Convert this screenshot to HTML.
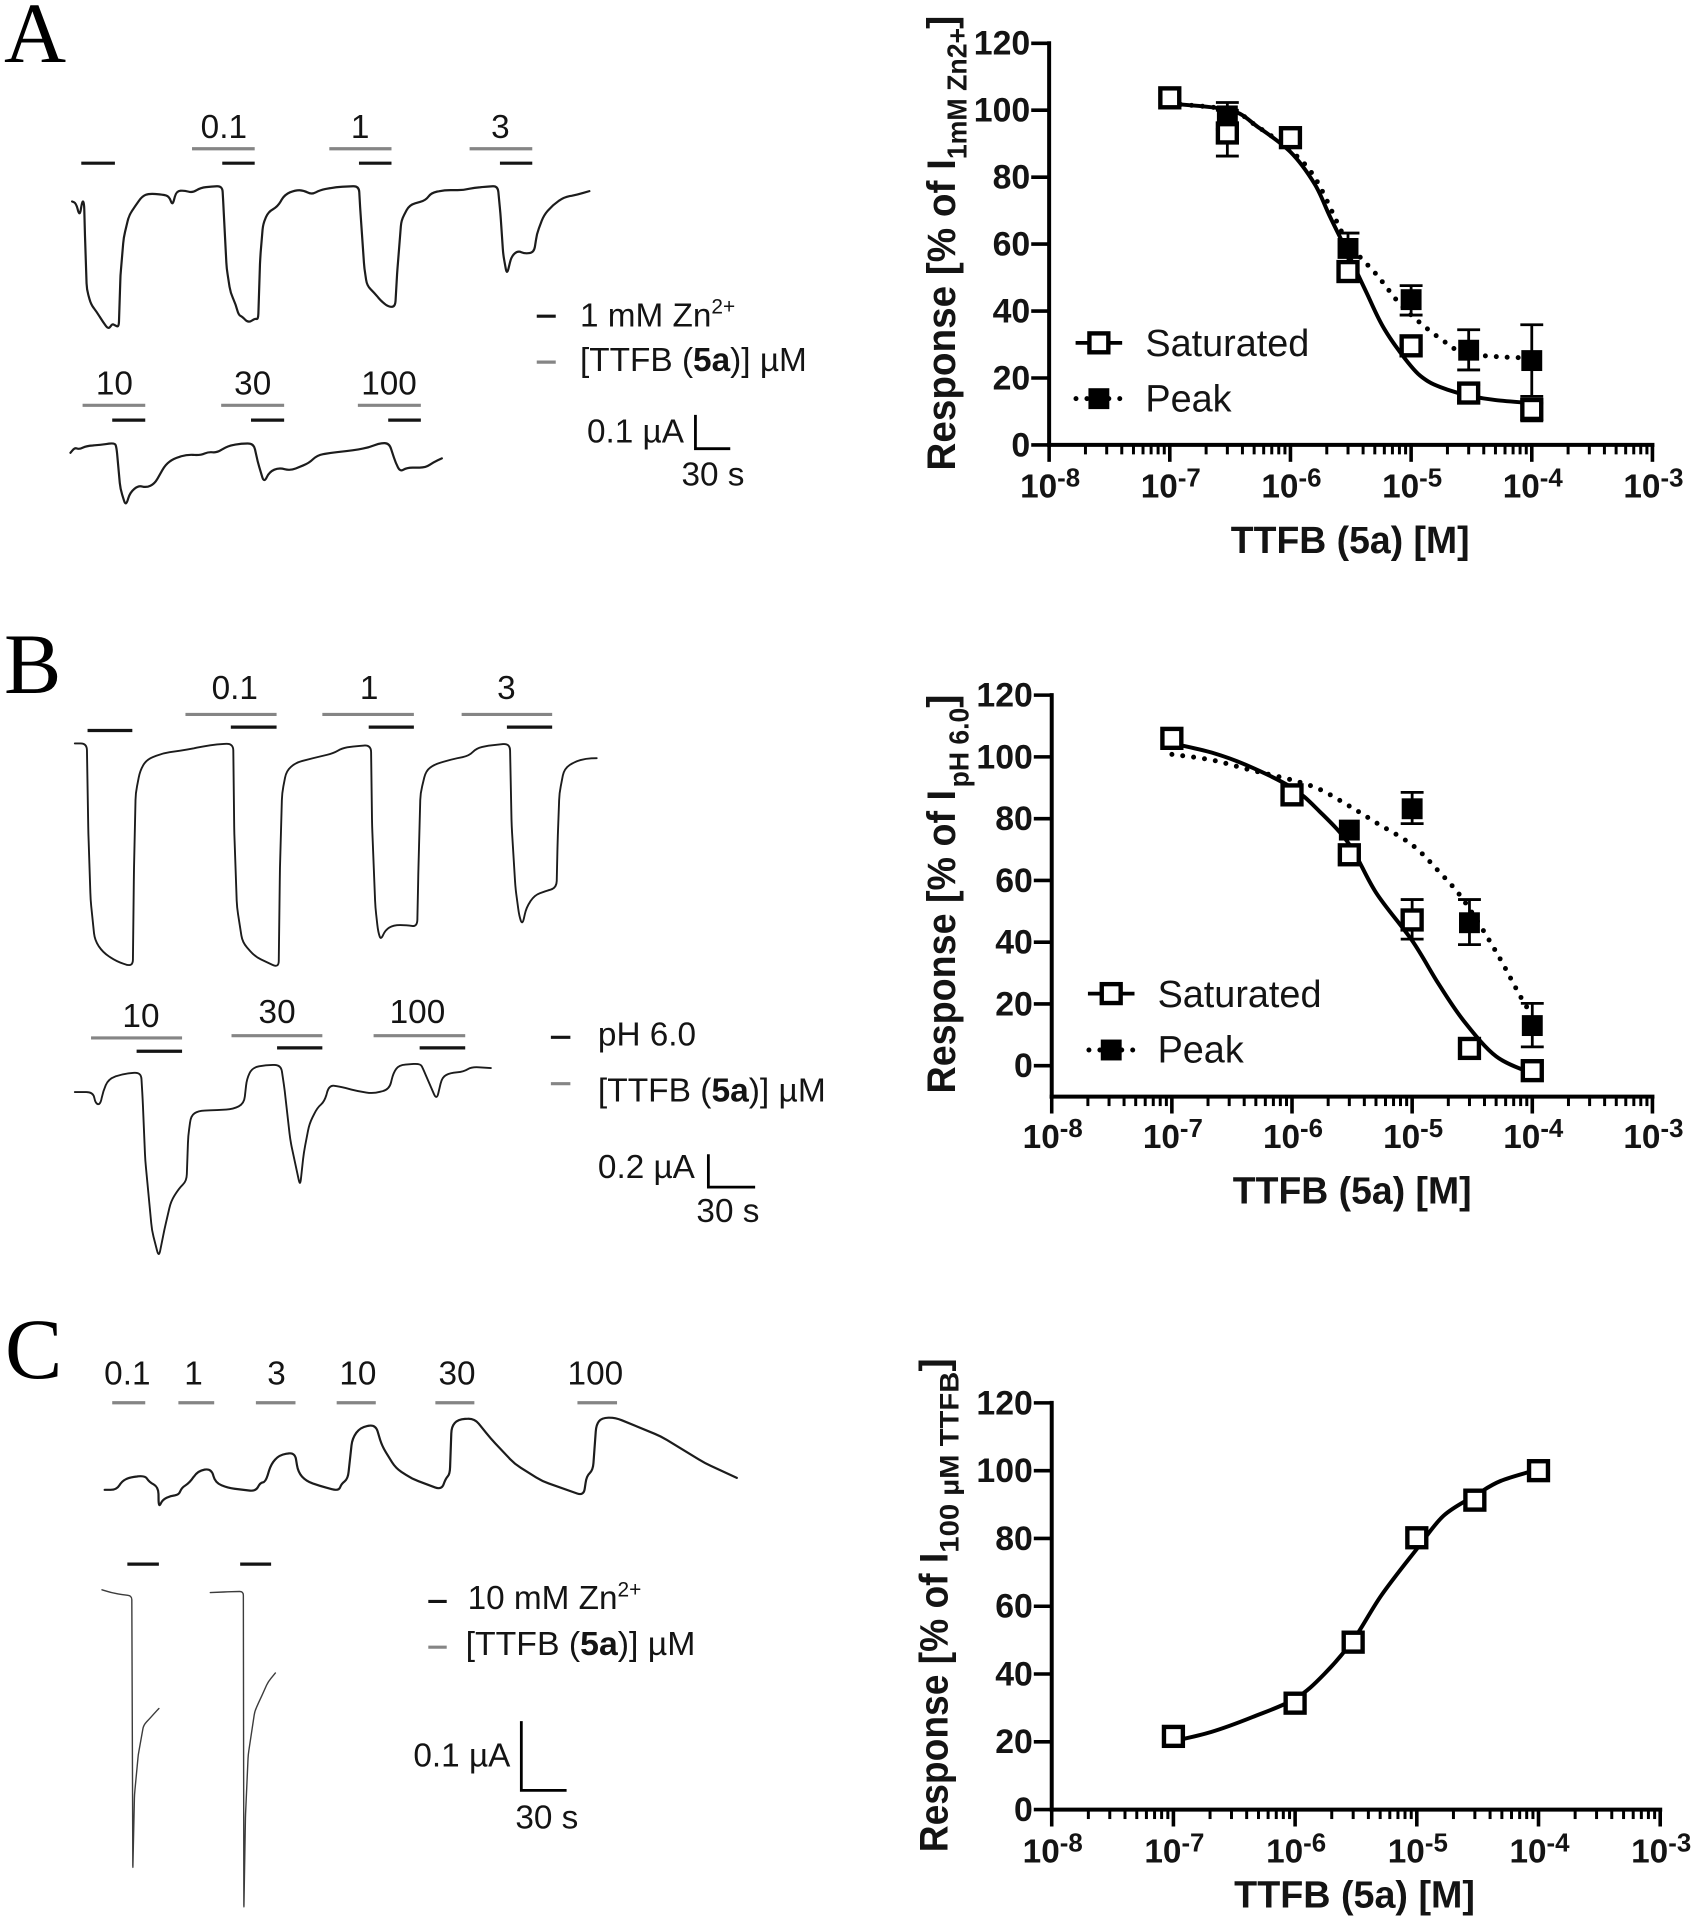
<!DOCTYPE html>
<html lang="en">
<head>
<meta charset="utf-8">
<title>TTFB concentration-response figure</title>
<style>
html,body{margin:0;padding:0;background:#fff;}
svg{display:block;}
text{font-family:"Liberation Sans",sans-serif;fill:#141414;}
.panel{font-family:"Liberation Serif",serif;font-size:86px;fill:#000;}
.lbl{font-size:33.5px;}
.leg{font-size:38px;}
.bold{font-weight:700;}
.zn{stroke:#141414;stroke-width:3.2;}
.tt{stroke:#858585;stroke-width:3.2;}
.sb{stroke:#000;stroke-width:2.8;fill:none;}
</style>
</head>
<body>
<svg id="fig" xmlns="http://www.w3.org/2000/svg" width="1691" height="1920" viewBox="0 0 1691 1920">
<rect x="0" y="0" width="1691" height="1920" fill="#fff"/>

<text class="panel" x="4" y="62">A</text>
<text class="panel" x="4" y="693">B</text>
<text class="panel" x="5" y="1378">C</text>

<!-- Panel A recordings -->
<g id="leftA" transform="scale(.9949)">
<g>
<line class="zn" x1="81.7" x2="115.5" y1="164" y2="164"/>
<line class="zn" x1="223.4" x2="256" y1="164" y2="164"/>
<line class="zn" x1="360.8" x2="393.5" y1="164" y2="164"/>
<line class="zn" x1="502.5" x2="535" y1="164" y2="164"/>
<line class="tt" x1="193" x2="256" y1="149.5" y2="149.5"/>
<line class="tt" x1="331" x2="393.5" y1="149.5" y2="149.5"/>
<line class="tt" x1="472" x2="535" y1="149.5" y2="149.5"/>
<line class="tt" x1="83" x2="146" y1="407.4" y2="407.4"/>
<line class="tt" x1="222.3" x2="285.6" y1="407.4" y2="407.4"/>
<line class="tt" x1="359.7" x2="423" y1="407.4" y2="407.4"/>
<line class="zn" x1="112.8" x2="146" y1="422.3" y2="422.3"/>
<line class="zn" x1="252.3" x2="285.6" y1="422.3" y2="422.3"/>
<line class="zn" x1="390.2" x2="423" y1="422.3" y2="422.3"/>
</g>
<text class="lbl" x="225" y="138.5" text-anchor="middle">0.1</text>
<text class="lbl" x="362" y="138.5" text-anchor="middle">1</text>
<text class="lbl" x="503" y="138.5" text-anchor="middle">3</text>
<text class="lbl" x="115" y="396.5" text-anchor="middle">10</text>
<text class="lbl" x="254" y="396.5" text-anchor="middle">30</text>
<text class="lbl" x="391" y="396.5" text-anchor="middle">100</text>
<g>
<line class="zn" x1="539.5" x2="558.6" y1="317.8" y2="317.8"/>
<line class="tt" x1="539.5" x2="558.6" y1="364" y2="364"/>
<text class="lbl" x="583" y="328">1 mM Zn<tspan font-size="21" dy="-13">2+</tspan></text>
<text class="lbl" x="583" y="373" textLength="228" lengthAdjust="spacingAndGlyphs">[TTFB (<tspan class="bold">5a</tspan>)] µM</text>
</g>
<g>
<path class="sb" d="M699 417V451H734"/>
<text class="lbl" x="590" y="445">0.1 µA</text>
<text class="lbl" x="685" y="488">30 s</text>
</g>
</g>

<!-- Panel B recordings -->
<g id="leftB" transform="translate(0 630) scale(.9949) translate(0 -630)">
<g>
<line class="zn" x1="88" x2="133" y1="731" y2="731"/>
<line class="tt" x1="186.4" x2="278" y1="714.9" y2="714.9"/>
<line class="tt" x1="324" x2="416" y1="714.9" y2="714.9"/>
<line class="tt" x1="464" x2="555" y1="714.9" y2="714.9"/>
<line class="zn" x1="232" x2="278" y1="727.6" y2="727.6"/>
<line class="zn" x1="370.6" x2="416" y1="727.6" y2="727.6"/>
<line class="zn" x1="509.5" x2="555" y1="727.6" y2="727.6"/>
<line class="tt" x1="91.5" x2="183" y1="1040" y2="1040"/>
<line class="tt" x1="232.7" x2="324" y1="1037.8" y2="1037.8"/>
<line class="tt" x1="375.5" x2="467.6" y1="1037.8" y2="1037.8"/>
<line class="zn" x1="137.3" x2="183" y1="1053.4" y2="1053.4"/>
<line class="zn" x1="278.5" x2="324" y1="1050" y2="1050"/>
<line class="zn" x1="421.8" x2="467.6" y1="1050" y2="1050"/>
</g>
<text class="lbl" x="236" y="699.5" text-anchor="middle">0.1</text>
<text class="lbl" x="371" y="699.5" text-anchor="middle">1</text>
<text class="lbl" x="509" y="699.5" text-anchor="middle">3</text>
<text class="lbl" x="141.7" y="1029" text-anchor="middle">10</text>
<text class="lbl" x="278.5" y="1025" text-anchor="middle">30</text>
<text class="lbl" x="419.6" y="1025" text-anchor="middle">100</text>
<g>
<line class="zn" x1="553.7" x2="573.3" y1="1039.4" y2="1039.4"/>
<line class="tt" x1="553.7" x2="573.3" y1="1086" y2="1086"/>
<text class="lbl" x="601" y="1047.6">pH 6.0</text>
<text class="lbl" x="601" y="1103.8" textLength="229" lengthAdjust="spacingAndGlyphs">[TTFB (<tspan class="bold">5a</tspan>)] µM</text>
</g>
<g>
<path class="sb" d="M712 1157V1190H759"/>
<text class="lbl" x="601" y="1180.6">0.2 µA</text>
<text class="lbl" x="700" y="1225">30 s</text>
</g>
</g>

<!-- Panel C recordings -->
<g id="leftC" transform="translate(0 1300) scale(.9949) translate(0 -1300)">
<g>
<line class="tt" x1="112.8" x2="146" y1="1403.3" y2="1403.3"/>
<line class="tt" x1="179.3" x2="215.3" y1="1403.3" y2="1403.3"/>
<line class="tt" x1="257.2" x2="297" y1="1403.3" y2="1403.3"/>
<line class="tt" x1="338.4" x2="377.7" y1="1403.3" y2="1403.3"/>
<line class="tt" x1="437.6" x2="476.8" y1="1403.3" y2="1403.3"/>
<line class="tt" x1="580.4" x2="620.2" y1="1403.3" y2="1403.3"/>
<line class="zn" x1="128" x2="159.7" y1="1565.5" y2="1565.5"/>
<line class="zn" x1="241.4" x2="272.5" y1="1565.5" y2="1565.5"/>
</g>
<text class="lbl" x="128" y="1385" text-anchor="middle">0.1</text>
<text class="lbl" x="194.5" y="1385" text-anchor="middle">1</text>
<text class="lbl" x="278" y="1385" text-anchor="middle">3</text>
<text class="lbl" x="359.7" y="1385" text-anchor="middle">10</text>
<text class="lbl" x="459.4" y="1385" text-anchor="middle">30</text>
<text class="lbl" x="598.4" y="1385" text-anchor="middle">100</text>
<g>
<line class="zn" x1="430.5" x2="449" y1="1603" y2="1603"/>
<line class="tt" x1="430.5" x2="449" y1="1649" y2="1649"/>
<text class="lbl" x="470" y="1610.8">10 mM Zn<tspan font-size="21" dy="-13">2+</tspan></text>
<text class="lbl" x="468" y="1657" textLength="231" lengthAdjust="spacingAndGlyphs">[TTFB (<tspan class="bold">5a</tspan>)] µM</text>
</g>
<g>
<path class="sb" d="M524 1723.3V1792.9H569.5"/>
<text class="lbl" x="415.5" y="1769">0.1 µA</text>
<text class="lbl" x="518" y="1831.4">30 s</text>
</g>
</g>

<!-- Plot A -->
<g id="plotA" transform="translate(880 0) scale(.9949) translate(-880 0)">
<g>
<text class="bold" transform="translate(955.4,473) rotate(-90)" font-size="40" textLength="313" lengthAdjust="spacingAndGlyphs">Response [% of I</text>
<text class="bold" transform="translate(967,160) rotate(-90)" font-size="28" textLength="132" lengthAdjust="spacingAndGlyphs">1mM Zn2+</text>
<text class="bold" transform="translate(955.4,29) rotate(-90)" font-size="40">]</text>
</g>
<text class="bold" x="1232.6" y="556" font-size="38" textLength="240" lengthAdjust="spacingAndGlyphs">TTFB (5a) [M]</text>
<g>
<g>
<line x1="1076.6" x2="1123.4" y1="344.6" y2="344.6" stroke="#000" stroke-width="3.8"/>
<rect x="1090.5" y="335.1" width="19" height="19" fill="#fff" stroke="#000" stroke-width="4.4"/>
<text class="leg" x="1146.8" y="358">Saturated</text>
</g>
<g>
<line x1="1077" x2="1123" y1="400.7" y2="400.7" stroke="#000" stroke-width="5" stroke-linecap="round" stroke-dasharray="0 11"/>
<rect x="1089.5" y="390.2" width="21" height="21" fill="#000"/>
<text class="leg" x="1146.8" y="413.8">Peak</text>
</g>
</g>
</g>

<!-- Plot B -->
<g id="plotB" transform="translate(880 660) scale(.9949) translate(-880 -660)">
<g>
<text class="bold" transform="translate(955.4,1095.7) rotate(-90)" font-size="40" textLength="305" lengthAdjust="spacingAndGlyphs">Response [% of I</text>
<text class="bold" transform="translate(969,788) rotate(-90)" font-size="28" textLength="80" lengthAdjust="spacingAndGlyphs">pH 6.0</text>
<text class="bold" transform="translate(955.4,708) rotate(-90)" font-size="40">]</text>
</g>
<text class="bold" x="1234.6" y="1206.5" font-size="38" textLength="240" lengthAdjust="spacingAndGlyphs">TTFB (5a) [M]</text>
<g>
<g>
<line x1="1089" x2="1135.8" y1="995.3" y2="995.3" stroke="#000" stroke-width="3.8"/>
<rect x="1102.9" y="985.8" width="19" height="19" fill="#fff" stroke="#000" stroke-width="4.4"/>
<text class="leg" x="1159" y="1008.7">Saturated</text>
</g>
<g>
<line x1="1090" x2="1136" y1="1052" y2="1052" stroke="#000" stroke-width="5" stroke-linecap="round" stroke-dasharray="0 11"/>
<rect x="1101.9" y="1041.5" width="21" height="21" fill="#000"/>
<text class="leg" x="1159" y="1064.5">Peak</text>
</g>
</g>
</g>

<!-- Plot C -->
<g id="plotC" transform="translate(880 1340) scale(.9949) translate(-880 -1340)">
<g>
<text class="bold" transform="translate(947.6,1854.9) rotate(-90)" font-size="40" textLength="301" lengthAdjust="spacingAndGlyphs">Response [% of I</text>
<text class="bold" transform="translate(959,1553.8) rotate(-90)" font-size="27" textLength="182" lengthAdjust="spacingAndGlyphs">100 µM TTFB</text>
<text class="bold" transform="translate(947.6,1371.6) rotate(-90)" font-size="40">]</text>
</g>
<text class="bold" x="1236" y="1910.6" font-size="38" textLength="242" lengthAdjust="spacingAndGlyphs">TTFB (5a) [M]</text>
</g>
</svg>

<script>
// ---------- Shared axis values ----------
const decadeExponents = [-8, -7, -6, -5, -4, -3];
const decadeLabels = ['-8', '-7', '-6', '-5', '-4', '-3'];
const minorMultipliers = [2, 3, 4, 5, 6, 7, 8, 9];
const yTicksAll = [0, 20, 40, 60, 80, 100, 120];

// ---------- Plot A (log10 concentration, % response) ----------
const satLogA = [-7, -6.523, -6, -5.523, -5, -4.523, -4];
const satA = [103.7, 93.2, 91.8, 51.8, 29.6, 15.5, 10.6];
const satHiA = [103.7, 100, 91.8, 54, 29.6, 18, 12.5];
const satLoA = [103.7, 86.3, 91.8, 50, 29.6, 13.2, 7.2];
const peakLogA = [-6.523, -5.523, -5, -4.523, -4];
const peakA = [98.3, 58.7, 43.4, 28.3, 25.2];
const peakHiA = [102.3, 63.3, 47.6, 34.4, 35.9];
const peakLoA = [94.3, 54, 38.8, 22.4, 14.5];
const fitSatLogA = [-7, -6.5, -6.27, -6, -5.8, -5.67, -5.52, -5.37, -5.22, -5, -4.86, -4.69, -4.52, -4.3, -4];
const fitSatA = [102, 100, 95, 87.5, 78, 68, 57, 45.5, 34.5, 23.5, 19, 16.4, 14.7, 13.4, 12.5];
const fitPeakLogA = [-7, -6.5, -6.27, -6, -5.8, -5.6, -5.52, -5.29, -5.09, -4.9, -4.69, -4.56, -4.26, -4];
const fitPeakA = [102, 100, 95, 88, 80, 65.5, 60, 51, 42, 35.7, 30, 27.4, 26.3, 26];

// ---------- Plot B ----------
const satLogB = [-7, -6, -5.523, -5, -4.523, -4];
const satB = [106, 87.7, 68.3, 47.2, 5.6, -1.6];
const satHiB = [106, 87.7, 68.3, 53.8, 5.6, -1.6];
const satLoB = [106, 87.7, 68.3, 41, 5.6, -1.6];
const peakLogB = [-5.523, -5, -4.523, -4];
const peakB = [76.3, 83.2, 46.3, 13];
const peakHiB = [76.3, 88.5, 53.8, 20.2];
const peakLoB = [76.3, 78.4, 39.2, 6.1];
const fitSatLogB = [-7, -6.67, -6.37, -6, -5.77, -5.52, -5.3, -5, -4.78, -4.57, -4.3, -4];
const fitSatB = [104.4, 101.4, 97.2, 90, 82.3, 71.5, 56, 40.5, 26.5, 14.5, 3, -2.5];
const fitPeakLogB = [-7, -6.67, -6.37, -6, -5.77, -5.52, -5.3, -5, -4.78, -4.57, -4.3, -4.09, -4];
const fitPeakB = [100.8, 99, 96, 92.5, 89.5, 84, 78.7, 71.5, 63, 53.5, 36.8, 21.8, 16.4];

// ---------- Plot C ----------
const satLogC = [-7, -6, -5.523, -5, -4.523, -4];
const satC = [21.6, 31.4, 49.4, 80.2, 91.3, 100];
const fitSatLogC = [-7, -6.69, -6.35, -6, -5.76, -5.52, -5.29, -5, -4.78, -4.52, -4.31, -4];
const fitSatC = [20.2, 22.9, 27.3, 32.7, 40, 50.2, 63.3, 76.9, 86.7, 92.7, 97, 100.4];

// ---------- Current traces: time (s), current (nA) ----------
const traceA1Time = [0,3.3,6.5,8.9,10.3,11.2,12.6,16.3,21,26.6,31.3,34.6,36.9,40.2,41.6,44.4,49,54.6,60.2,66.3,78,83.6,86.4,89.7,96.7,103.7,110.7,120,129.4,130.3,133.1,136.4,141,143.4,146.6,151.8,157.4,160.2,162,164.4,169,177,183,192.4,199.4,206.4,213.4,227.4,247,248.4,251.7,254,260.1,267.1,273.2,278.3,280.2,283.5,290.5,304.5,309.2,320.8,337.2,346.5,358.2,366.6,368.9,371.3,374.5,378.3,383.9,389.9,397.9,400.2,406.3,414.2,423.6,435.2,445.5];
const traceA1Current = [-45,-50,-88,-42,-50,-160,-300,-345,-365,-395,-417,-400,-405,-410,-260,-150,-85,-57,-30,-22,-25,-30,-58,-15,-13,-20,-5,-2,0,-60,-240,-310,-345,-375,-380,-398,-385,-388,-210,-110,-75,-60,-25,-12,-13,-25,-12,-3,0,-80,-240,-290,-310,-338,-352,-350,-240,-100,-55,-42,-20,-12,-12,-5,-2,0,-80,-200,-258,-205,-188,-197,-193,-140,-85,-55,-33,-25,-15];
const traceA2Time = [0,3.7,7.5,14,25.7,38.3,39.7,43,47.6,51.4,58.4,65.4,72.4,81.7,88.8,100.4,112.1,119.1,126.1,135.5,147.2,157.9,161.2,166.7,171.4,179.8,189.2,205.5,212.5,224.2,242.9,256.9,266.2,274.6,280.2,284,289.6,305.9,312.9,319.9];
const traceA2Current = [-29,-14,-19,-9,-6,0,-14,-134,-184,-144,-124,-130,-119,-64,-46,-34,-36,-26,-29,-9,-2,-2,-54,-116,-84,-72,-81,-59,-36,-29,-22,-14,-1,-1,-59,-84,-72,-72,-56,-45];
const traceB1Time = [0,7.7,8.7,10.1,12.8,18,26.8,37.2,37.9,39,41.8,45.9,56.4,72,82.5,91.2,101.6,102.3,104,107.5,115.5,130.8,131.5,132.9,135.7,141.6,157.3,166,171.2,178.2,190,190.7,192.8,194.6,196.3,199.1,204.3,213,219.6,220.3,221.7,225.2,230.4,240.8,253,257.5,265.2,279.1,280.2,282.6,285,287.1,289.6,294.8,301.7,309,309.7,310.8,313.9,320.9,327.9,334.8];
const traceB1Current = [0,0,-555,-955,-1205,-1280,-1335,-1368,-805,-305,-168,-100,-60,-38,-18,-5,0,-555,-1005,-1218,-1305,-1375,-805,-305,-168,-118,-80,-60,-30,-18,-10,-505,-1005,-1155,-1205,-1143,-1113,-1113,-1123,-805,-305,-168,-130,-100,-75,-30,-13,0,-505,-880,-1055,-1113,-1005,-930,-905,-885,-605,-305,-155,-110,-93,-90];
const traceB2Time = [0,11.8,13.2,16.4,18.1,21.6,30.3,42.5,43.5,45.2,49.4,53.9,57.4,61.6,66.8,71.7,72.7,74.5,79,91.2,101.6,108.6,110.3,113.8,122.5,132.2,134.7,138.2,144.5,146.9,150.4,155.6,160.1,163.2,169.5,181.7,191.4,201.8,204.3,207.8,221.7,223.4,232.1,235.6,240.8,249.5,254.7,266.9];
const traceB2Current = [-175,-175,-245,-253,-170,-95,-65,-53,-220,-595,-1020,-1188,-1020,-845,-765,-720,-445,-320,-290,-285,-280,-245,-95,-25,-10,-8,-170,-470,-753,-545,-370,-270,-233,-133,-140,-170,-185,-158,-58,-10,0,-33,-225,-83,-58,-50,-20,-28];
const traceC1Time = [0,8,11.6,17,27.2,29.8,35.9,36.3,38.8,44.3,49.7,51.5,57,62.4,71.5,74.1,82.4,101.3,104.2,107.8,111.5,116.9,127.5,129.6,135,144.1,156.8,158.6,163,165.9,171.3,181.5,185.9,195,205.9,225.8,228.4,231.3,232.4,236.8,247.7,258.6,274.9,293.1,321,322.9,327.2,329.4,333,342.1,372.9,402,423.6];
const traceC1Current = [0,0,12.6,18.3,20.6,11.4,4,-25.7,-14.3,-8.6,-7.4,2.9,10.3,27.5,30.9,10.3,2.9,-2.3,10.3,11.4,37.2,50.3,54.3,25.7,12.6,5.7,-1.7,8.6,16,74.4,90.4,94.4,63,31.5,16,0,16,22.9,91.5,101.8,103.5,74.4,37.2,12.6,-8.6,20,28.6,94.4,104,104.6,77.2,38.9,17.2];
const traceC2Time = [0,6.2,13.4,20,20.7,21.8,24.3,27.9,31.6,35.2,38.1];
const traceC2Current = [0,-4,-6.9,-8.6,-404.4,-295.7,-238.5,-195.6,-187,-178.4,-171.6];
const traceC3Time = [0,11.6,22.1,22.5,23.6,25.4,29.8,33.4,38.8,43.6];
const traceC3Current = [-1.7,-0.6,0,-459.3,-322,-236,-173,-156,-130.5,-118];

// ---------- Drawing ----------
const NS = 'http://www.w3.org/2000/svg';

function make(tag, attrs, parent) {
  const el = document.createElementNS(NS, tag);
  for (const k in attrs) el.setAttribute(k, attrs[k]);
  parent.appendChild(el);
  return el;
}

// Polyline with corners rounded over a limited radius (keeps sharp steps and peaks)
function roundedPath(px, py, r) {
  let d = 'M' + px[0].toFixed(1) + ' ' + py[0].toFixed(1);
  for (let i = 1; i < px.length - 1; i++) {
    const ax = px[i] - px[i - 1], ay = py[i] - py[i - 1];
    const bx = px[i + 1] - px[i], by = py[i + 1] - py[i];
    const la = Math.hypot(ax, ay) || 1, lb = Math.hypot(bx, by) || 1;
    const ra = Math.min(r, la / 2), rb = Math.min(r, lb / 2);
    const sx = px[i] - ax / la * ra, sy = py[i] - ay / la * ra;
    const ex = px[i] + bx / lb * rb, ey = py[i] + by / lb * rb;
    d += 'L' + sx.toFixed(1) + ' ' + sy.toFixed(1) + 'Q' + px[i].toFixed(1) + ' ' + py[i].toFixed(1) + ' ' + ex.toFixed(1) + ' ' + ey.toFixed(1);
  }
  d += 'L' + px[px.length - 1].toFixed(1) + ' ' + py[py.length - 1].toFixed(1);
  return d;
}

function drawTrace(parent, times, currents, x0, y0, pxPerS, pxPerNA, width, color, radius, name) {
  const px = times.map(t => x0 + t * pxPerS);
  const py = currents.map(c => y0 - c * pxPerNA);
  const el = make('path', {d: roundedPath(px, py, radius), fill: 'none', stroke: color, 'stroke-width': width, 'stroke-linejoin': 'round', 'stroke-linecap': 'round'}, parent);
  
  
}

function smoothPath(px, py) {
  let d = 'M' + px[0].toFixed(1) + ' ' + py[0].toFixed(1);
  for (let i = 0; i < px.length - 1; i++) {
    const a = Math.max(i - 1, 0), b = i + 1, c = Math.min(i + 2, px.length - 1);
    const c1x = px[i] + (px[b] - px[a]) / 6, c1y = py[i] + (py[b] - py[a]) / 6;
    const c2x = px[b] - (px[c] - px[i]) / 6, c2y = py[b] - (py[c] - py[i]) / 6;
    d += 'C' + c1x.toFixed(1) + ' ' + c1y.toFixed(1) + ' ' + c2x.toFixed(1) + ' ' + c2y.toFixed(1) + ' ' + px[b].toFixed(1) + ' ' + py[b].toFixed(1);
  }
  return d;
}

function drawAxes(g, xAxis, yAxis, yTickValues, xLabelBase) {
  const bottom = yAxis(yAxis.min);
  const yLine = make('line', {x1: xAxis(-8), x2: xAxis(-8), y1: yAxis(120) - 2, y2: bottom + 2, stroke: '#000', 'stroke-width': 4}, g);
  
  
  const xLine = make('line', {x1: xAxis(-8) - 2, x2: xAxis(-3) + 2, y1: bottom, y2: bottom, stroke: '#000', 'stroke-width': 4}, g);
  
  

  yTickValues.forEach(v => {
    const t = make('line', {x1: xAxis(-8) - 18, x2: xAxis(-8), y1: yAxis(v), y2: yAxis(v), stroke: '#000', 'stroke-width': 3.6}, g);
    
    
    const l = make('text', {x: xAxis(-8) - 19, y: yAxis(v) + 11.5, 'text-anchor': 'end', 'font-size': 34, 'font-weight': 700}, g);
    
    
    l.textContent = String(v);
  });

  decadeExponents.forEach((e, i) => {
    const t = make('line', {x1: xAxis(e), x2: xAxis(e), y1: bottom, y2: bottom + 17, stroke: '#000', 'stroke-width': 3.6}, g);
    
    
    const l = make('text', {x: xAxis(e) + 1, y: xLabelBase, 'text-anchor': 'middle', 'font-size': 33.5, 'font-weight': 700}, g);
    
    
    l.textContent = '10';
    const sup = make('tspan', {'font-size': 26, dy: -11}, l);
    
    
    sup.textContent = decadeLabels[i];
    if (e < -3) {
      minorMultipliers.forEach(m => {
        const lx = e + Math.log10(m);
        const mt = make('line', {x1: xAxis(lx), x2: xAxis(lx), y1: bottom, y2: bottom + 9.5, stroke: '#000', 'stroke-width': 3}, g);
        
        
      });
    }
  });
}

function drawFit(g, xAxis, yAxis, logs, vals, dotted, name) {
  const attrs = {d: smoothPath(logs.map(xAxis), vals.map(yAxis)), fill: 'none', stroke: '#000', 'stroke-width': dotted ? 5 : 4};
  if (dotted) {
    attrs['stroke-dasharray'] = '0 11';
    attrs['stroke-linecap'] = 'round';
  }
  const p = make('path', attrs, g);
  
  
}

function drawErrors(g, xAxis, yAxis, logs, vals, hi, lo, name) {
  logs.forEach((lg, i) => {
    if (hi[i] === lo[i]) return;
    const x = xAxis(lg);
    const d = 'M' + (x - 11.5) + ' ' + yAxis(hi[i]) + 'H' + (x + 11.5) + 'M' + x + ' ' + yAxis(hi[i]) + 'V' + yAxis(lo[i]) + 'M' + (x - 11.5) + ' ' + yAxis(lo[i]) + 'H' + (x + 11.5);
    const e = make('path', {d: d, fill: 'none', stroke: '#000', 'stroke-width': 2.8}, g);
    
    
  });
}

function drawSat(g, xAxis, yAxis, logs, vals, name) {
  logs.forEach((lg, i) => {
    const r = make('rect', {x: xAxis(lg) - 9.5, y: yAxis(vals[i]) - 9.5, width: 19, height: 19, fill: '#fff', stroke: '#000', 'stroke-width': 4.4}, g);
    
    
  });
}

function drawPeak(g, xAxis, yAxis, logs, vals, name) {
  logs.forEach((lg, i) => {
    const r = make('rect', {x: xAxis(lg) - 10.5, y: yAxis(vals[i]) - 10.5, width: 21, height: 21, fill: '#000'}, g);
    
    
  });
}

function axisX(left, right) {
  return lg => left + (lg + 8) * (right - left) / 5;
}
function axisY(zeroPx, topPx, min) {
  const f = v => zeroPx - v * (zeroPx - topPx) / 120;
  f.min = min;
  return f;
}

const leftA = document.getElementById('leftA');
const leftB = document.getElementById('leftB');
const leftC = document.getElementById('leftC');

// Traces
drawTrace(leftA, traceA1Time, traceA1Current, 72.5, 186.9, 1.167, 0.346, 2.2, '#1c1c1c', 6, 'trace-a-upper');
drawTrace(leftA, traceA2Time, traceA2Current, 70.8, 445.1, 1.167, 0.346, 2.2, '#1c1c1c', 6, 'trace-a-lower');
drawTrace(leftB, traceB1Time, traceB1Current, 75.2, 744, 1.567, 0.1641, 1.9, '#1c1c1c', 7, 'trace-b-upper');
drawTrace(leftB, traceB2Time, traceB2Current, 75.2, 1065.7, 1.567, 0.1641, 1.9, '#1c1c1c', 7, 'trace-b-lower');
drawTrace(leftC, traceC1Time, traceC1Current, 105.2, 1490.8, 1.5, 0.695, 2.2, '#1c1c1c', 7, 'trace-c-ttfb');
drawTrace(leftC, traceC2Time, traceC2Current, 102.5, 1591.3, 1.5, 0.695, 1.4, '#3c3c3c', 4, 'trace-c-zn-first');
drawTrace(leftC, traceC3Time, traceC3Current, 211.4, 1592.9, 1.5, 0.695, 1.4, '#3c3c3c', 4, 'trace-c-zn-second');

// Plot A
const gA = document.getElementById('plotA');
const xA = axisX(1050, 1656.4);
const yA = axisY(447.2, 43.5, 0);
drawAxes(gA, xA, yA, yTicksAll, 500);
drawFit(gA, xA, yA, fitPeakLogA, fitPeakA, true, 'fit-curve-peak');
drawFit(gA, xA, yA, fitSatLogA, fitSatA, false, 'fit-curve-saturated');
drawErrors(gA, xA, yA, peakLogA, peakA, peakHiA, peakLoA, 'error-bar-peak');
drawErrors(gA, xA, yA, satLogA, satA, satHiA, satLoA, 'error-bar-saturated');
drawSat(gA, xA, yA, satLogA, satA, 'point-saturated');
drawPeak(gA, xA, yA, peakLogA, peakA, 'point-peak');

// Plot B
const gB = document.getElementById('plotB');
const xB = axisX(1052.6, 1656.4);
const yB = axisY(1067.8, 695.3, -10);
drawAxes(gB, xB, yB, yTicksAll, 1150.7);
drawFit(gB, xB, yB, fitPeakLogB, fitPeakB, true, 'fit-curve-peak');
drawFit(gB, xB, yB, fitSatLogB, fitSatB, false, 'fit-curve-saturated');
drawErrors(gB, xB, yB, peakLogB, peakB, peakHiB, peakLoB, 'error-bar-peak');
drawErrors(gB, xB, yB, satLogB, satB, satHiB, satLoB, 'error-bar-saturated');
drawSat(gB, xB, yB, satLogB, satB, 'point-saturated');
drawPeak(gB, xB, yB, peakLogB, peakB, 'point-peak');

// Plot C
const gC = document.getElementById('plotC');
const xC = axisX(1052.6, 1664.2);
const yC = axisY(1812, 1403.2, 0);
drawAxes(gC, xC, yC, yTicksAll, 1865);
drawFit(gC, xC, yC, fitSatLogC, fitSatC, false, 'fit-curve-saturated');
drawSat(gC, xC, yC, satLogC, satC, 'point-saturated');
</script>
</body>
</html>
